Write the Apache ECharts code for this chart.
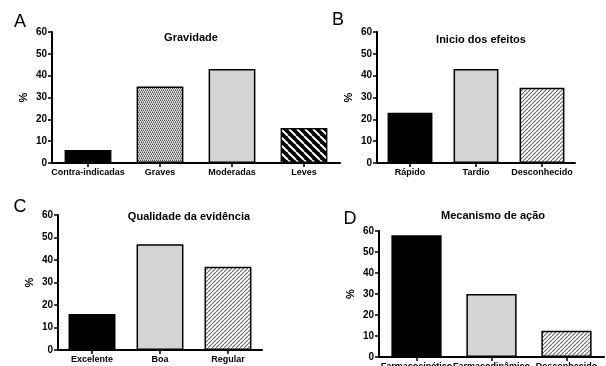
<!DOCTYPE html>
<html><head><meta charset="utf-8">
<script src="https://cdn.jsdelivr.net/npm/echarts@6/dist/echarts.min.js"></script>
<style>html,body{margin:0;padding:0;background:#fff}#c{width:606px;height:366px}</style>
</head><body><div id="c"></div>
<script>
const catsA = ['Contra-indicadas','Graves','Moderadas','Leves'];
const valsA = [6, 35, 43, 16];
const catsB = ['Rápido','Tardio','Desconhecido'];
const valsB = [23, 43, 34.5];
const catsC = ['Excelente','Boa','Regular'];
const valsC = [16, 47, 37];
const catsD = ['Farmacocinético','Farmacodinâmico','Desconhecido'];
const valsD = [58, 30, 12.5];
const titles = ['Gravidade','Inicio dos efeitos','Qualidade da evidência','Mecanismo de ação'];
const letters = ['A','B','C','D'];
const yTicks = [0,10,20,30,40,50,60];

function pat(w,h,draw){const c=document.createElement('canvas');c.width=w;c.height=h;const g=c.getContext('2d');draw(g,w,h);return {image:c,repeat:'repeat'};}
const checker = pat(4,4,(g)=>{g.fillStyle='#d8d8d8';g.fillRect(0,0,4,4);g.fillStyle='#555';
  g.fillRect(0,0,1,1);g.fillRect(2,0,1,1);g.fillRect(1,2,1,1);g.fillRect(3,2,1,1);
  g.fillStyle='#999';g.fillRect(1,1,1,1);g.fillRect(3,1,1,1);g.fillRect(0,3,1,1);g.fillRect(2,3,1,1);});
const stripes = pat(8,8,(g)=>{g.fillStyle='#000';g.fillRect(0,0,8,8);g.strokeStyle='#fff';g.lineWidth=2;
  for(let k=-8;k<=16;k+=8){g.beginPath();g.moveTo(k,0);g.lineTo(k+8,8);g.stroke();}});
const hatch = pat(4,4,(g)=>{g.fillStyle='#fff';g.fillRect(0,0,4,4);g.strokeStyle='#666';g.lineWidth=1.1;
  for(let k=-4;k<=8;k+=4){g.beginPath();g.moveTo(k,4);g.lineTo(k+4,0);g.stroke();}});
const GREY = '#d4d4d4';
const fillsA = ['#000', checker, GREY, stripes];
const fillsB = ['#000', GREY, hatch];
const fillsC = ['#000', GREY, hatch];
const fillsD = ['#000', GREY, hatch];

const grids = [
  {left:52, top:32, width:288, height:131},
  {left:377, top:32, width:198, height:131},
  {left:58, top:215, width:204, height:135},
  {left:379, top:231, width:225, height:126}
];
const cats = [catsA,catsB,catsC,catsD];
const vals = [valsA,valsB,valsC,valsD];
const fills = [fillsA,fillsB,fillsC,fillsD];
const bw = ['65%','68%','69%','67%'];
const font = 'Liberation Sans, Arial, sans-serif';
const titlePos = [[191,38],[481,40],[189,217],[493,216]];
const letterPos = [[20,22],[338,20],[20,207],[350,219]];

const option = {
  animation:false,
  backgroundColor:'#fff',
  grid: grids.map(g=>Object.assign({containLabel:false,outerBoundsMode:'none'},g)),
  xAxis: cats.map((c,i)=>({type:'category',gridIndex:i,data:c,
    axisLine:{lineStyle:{color:'#000',width:2}},
    axisTick:{show:true,alignWithLabel:true,length:4,lineStyle:{color:'#000',width:1.5}},
    axisLabel:{color:'#000',fontFamily:font,fontWeight:'bold',fontSize:9,margin:5,interval:0},
    splitLine:{show:false}})),
  yAxis: cats.map((c,i)=>({type:'value',gridIndex:i,min:0,max:60,interval:10,
    name:'%',nameLocation:'middle',nameGap:23,nameRotate:90,
    nameTextStyle:{color:'#000',fontFamily:font,fontWeight:'bold',fontSize:11},
    axisLine:{show:true,lineStyle:{color:'#000',width:2}},
    axisTick:{show:true,length:4,lineStyle:{color:'#000',width:1.5}},
    axisLabel:{color:'#000',fontFamily:font,fontWeight:'bold',fontSize:10,margin:5,
      formatter:v=>yTicks.includes(v)?String(v):''},
    splitLine:{show:false}})),
  series: vals.map((v,i)=>({type:'bar',xAxisIndex:i,yAxisIndex:i,barWidth:bw[i],
    data:v.map((x,j)=>({value:x,itemStyle:{color:fills[i][j]}})),
    itemStyle:{borderColor:'#000',borderWidth:1.5}})),
  graphic: titles.map((t,i)=>({type:'text',x:titlePos[i][0],y:titlePos[i][1],
      style:{text:t,fill:'#000',font:'bold 11px '+font,textAlign:'center',textVerticalAlign:'middle'}}))
    .concat(letters.map((t,i)=>({type:'text',x:letterPos[i][0],y:letterPos[i][1],
      style:{text:t,fill:'#000',font:'18px '+font,textAlign:'center',textVerticalAlign:'middle'}})))
};
const chart = echarts.init(document.getElementById('c'),null,{renderer:'canvas'});
chart.setOption(option);
</script></body></html>
